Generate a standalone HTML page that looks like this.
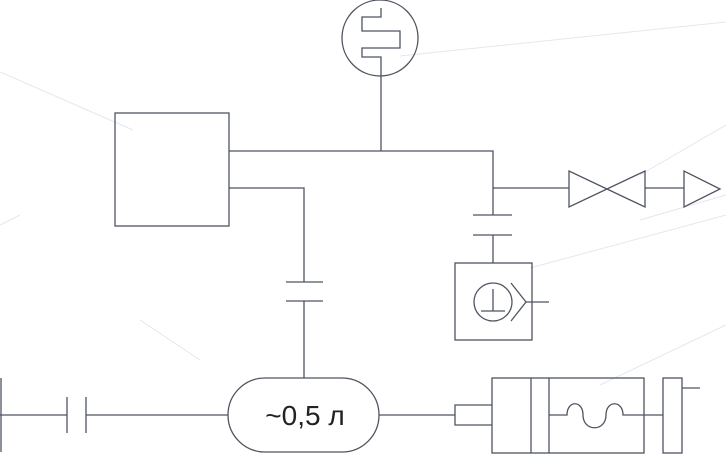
<!DOCTYPE html>
<html><head><meta charset="utf-8"><style>html,body{margin:0;padding:0;background:#fff}svg{display:block}</style></head>
<body>
<svg width="726" height="456" viewBox="0 0 726 456" xmlns="http://www.w3.org/2000/svg">
<g stroke="#e4e7ee" stroke-width="1" fill="none">
<line x1="400" y1="56" x2="726" y2="22"/>
<line x1="0" y1="72" x2="133" y2="130"/>
<line x1="640" y1="175" x2="726" y2="125"/>
<line x1="640" y1="220" x2="726" y2="195"/>
<line x1="530" y1="268" x2="726" y2="215"/>
<line x1="600" y1="385" x2="726" y2="325"/>
<line x1="140" y1="320" x2="200" y2="360"/>
<line x1="0" y1="225" x2="20" y2="215"/>
</g>
<g stroke="#4f5460" stroke-width="1.3" fill="none">
<rect x="115" y="113" width="114" height="113"/>
<polyline points="229,151 493,151 493,215"/>
<polyline points="229,188 304,188 304,282"/>
<line x1="286" y1="282" x2="323" y2="282"/>
<line x1="286" y1="301" x2="323" y2="301"/>
<line x1="304" y1="301" x2="304" y2="378"/>
<rect x="228" y="378" width="151" height="74" rx="37" ry="37"/>
<line x1="0" y1="415" x2="67" y2="415"/>
<line x1="86" y1="415" x2="228" y2="415"/>
<line x1="67" y1="397" x2="67" y2="433"/>
<line x1="86" y1="397" x2="86" y2="433"/>
<line x1="1" y1="378" x2="1" y2="452"/>
<circle cx="380" cy="38" r="38"/>
<polyline points="381,8 381,17 362,17 362,31 400,31 400,48 362,48 362,57 381,57 381,151"/>
<line x1="493" y1="188" x2="569" y2="188"/>
<polygon points="569,171 569,207 645,171 645,207"/>
<line x1="645" y1="188" x2="684" y2="188"/>
<polygon points="684,171 684,207 720,189"/>
<line x1="473" y1="215" x2="512" y2="215"/>
<line x1="473" y1="235" x2="512" y2="235"/>
<line x1="493" y1="235" x2="493" y2="263"/>
<rect x="455" y="263" width="77" height="77"/>
<circle cx="493" cy="302" r="19"/>
<line x1="493" y1="289" x2="493" y2="311"/>
<line x1="481" y1="311" x2="505" y2="311"/>
<polyline points="511,283 526,302 511,321"/>
<line x1="526" y1="302" x2="549" y2="302"/>
<line x1="379" y1="415" x2="455" y2="415"/>
<polyline points="492,405 455,405 455,425 492,425"/>
<rect x="492" y="378" width="152" height="75"/>
<line x1="531" y1="378" x2="531" y2="453"/>
<line x1="549" y1="378" x2="549" y2="453"/>
<path d="M549,415 H567 C567,400 583,400 583,415 C583,432 606,432 606,415 C606,400 623,400 623,415 H663"/>
<rect x="663" y="378" width="19" height="75"/>
<line x1="682" y1="388" x2="700" y2="388"/>
</g>
<text x="305" y="425" font-family="Liberation Sans, sans-serif" font-size="28" fill="#222" text-anchor="middle">~0,5 л</text>
</svg>
</body></html>
